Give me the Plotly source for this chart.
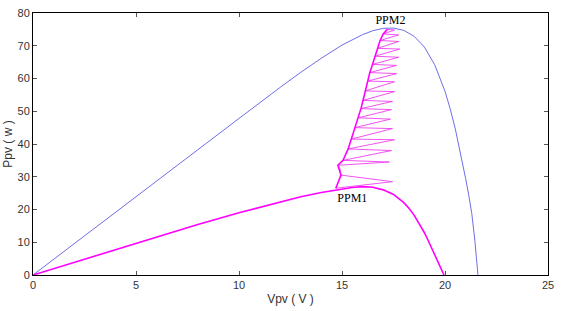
import plotly.graph_objects as go

# PV curve at full irradiance (blue)
v_blue = [0, 2, 4, 6, 8, 10, 12, 13, 14, 15, 16, 16.5, 17, 17.5, 18, 18.5, 19, 19.5, 20, 20.25, 20.5, 20.75, 21, 21.15, 21.3, 21.45, 21.6]
p_blue = [0, 9.6, 19.2, 28.8, 38.3, 47.8, 57.3, 61.9, 66.2, 70.2, 73.4, 74.6, 75.3, 75.4, 74.7, 72.9, 69.6, 64.2, 56.1, 50.8, 44.6, 37.4, 29.5, 24.5, 18.8, 10.5, 0]

# PV curve at low irradiance (magenta)
v_mag = [0, 2, 4, 6, 8, 10, 12, 13, 14, 15, 15.5, 16, 16.5, 17, 17.5, 18, 18.25, 18.5, 18.75, 19, 19.15, 19.3, 19.45, 19.6, 19.75, 19.95]
p_mag = [0, 3.9, 7.8, 11.7, 15.4, 19.0, 22.4, 23.9, 25.2, 26.3, 26.7, 27.0, 26.8, 26.0, 24.6, 22.1, 20.4, 18.3, 15.7, 12.9, 11.0, 8.9, 6.8, 4.7, 2.5, 0]

# MPPT trajectory: spine (left) points and excursion tips (right)
v_spine = [14.70, 14.95, 14.80, 15.05, 15.30, 15.45, 15.62, 15.80, 15.92, 16.02, 16.12, 16.25, 16.35, 16.48, 16.60, 16.72, 16.85, 17.00, 17.20]
p_spine = [26.5, 30.5, 33.5, 35.0, 38.5, 41.5, 45.0, 48.0, 50.8, 53.3, 56.2, 59.2, 61.8, 64.3, 66.8, 69.2, 71.6, 73.6, 75.0]
v_tip = [17.45, 14.90, 17.30, 17.40, 17.55, 17.45, 17.35, 17.40, 17.45, 17.55, 17.55, 17.65, 17.65, 17.75, 17.80, 17.75, 17.75, 17.55]
p_tip = [28.5, 32.5, 34.5, 38.0, 41.3, 44.7, 47.6, 50.5, 53.0, 56.0, 59.0, 61.5, 64.0, 66.5, 69.0, 71.3, 73.3, 74.8]

v_traj, p_traj = [], []
for i in range(len(v_tip)):
    v_traj += [v_spine[i], v_tip[i]]
    p_traj += [p_spine[i], p_tip[i]]
v_traj.append(v_spine[-1])
p_traj.append(p_spine[-1])

labels = ["PPM2", "PPM1"]
label_v = [17.35, 15.50]
label_p = [77.6, 23.2]

fig = go.Figure()
fig.add_trace(go.Scatter(x=v_blue, y=p_blue, mode="lines", line=dict(color="#6E6EE6", width=1), showlegend=False))
fig.add_trace(go.Scatter(x=v_mag, y=p_mag, mode="lines", line=dict(color="#FF00FF", width=1.6), showlegend=False))
fig.add_trace(go.Scatter(x=v_traj, y=p_traj, mode="lines", line=dict(color="#F040F0", width=0.9), showlegend=False))
fig.add_trace(go.Scatter(x=v_spine, y=p_spine, mode="lines", line=dict(color="#FF00FF", width=1.6), showlegend=False))
fig.add_trace(go.Scatter(x=label_v, y=label_p, mode="text", text=labels, textfont=dict(family="Liberation Serif", size=12, color="black"), showlegend=False))

axis_common = dict(showline=True, linecolor="black", linewidth=1, mirror="ticks", ticks="inside", ticklen=4,
                   tickcolor="#555", showgrid=False, zeroline=False,
                   tickfont=dict(family="Liberation Sans", size=11, color="#333"))
fig.update_xaxes(range=[0, 25], dtick=5, title=dict(text="Vpv ( V )", font=dict(family="Liberation Sans", size=12, color="#333"), standoff=4), **axis_common)
fig.update_yaxes(range=[0, 80], dtick=10, title=dict(text="Ppv ( w )", font=dict(family="Liberation Sans", size=12, color="#333"), standoff=2), **axis_common)

fig.update_layout(width=561, height=311, margin=dict(l=31, r=11, t=7, b=35),
                  plot_bgcolor="white", paper_bgcolor="white")
fig.write_html("out.html")
